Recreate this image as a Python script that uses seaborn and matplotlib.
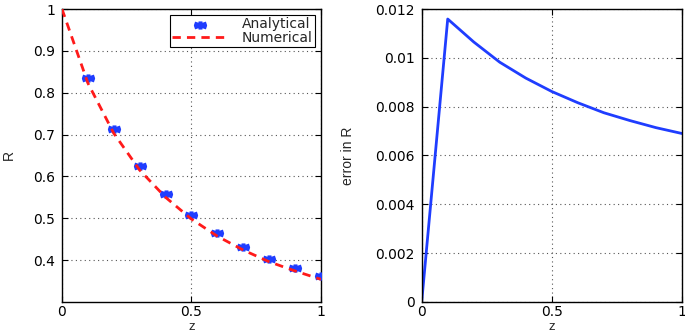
import numpy as np
import pandas as pd
import matplotlib
matplotlib.use("Agg")
import matplotlib.pyplot as plt
from matplotlib.path import Path
import seaborn as sns

# valores
z_an = [0.1, 0.2, 0.3, 0.4, 0.5, 0.6, 0.7, 0.8, 0.9, 1.0]
R_an = [0.835, 0.714, 0.625, 0.559, 0.507, 0.465, 0.432, 0.403, 0.381, 0.361]

z_num = [0.0, 0.1, 0.2, 0.3, 0.4, 0.5, 0.6, 0.7, 0.8, 0.9, 1.0]
R_num = [1.0, 0.823, 0.703, 0.615, 0.550, 0.498, 0.457, 0.424, 0.396, 0.374, 0.354]

err = [0.0, 0.01159, 0.01065, 0.00982, 0.00917, 0.00862, 0.00816, 0.00775, 0.00743, 0.00714, 0.00690]

df_an = pd.DataFrame({"z": z_an, "R": R_an})
df_num = pd.DataFrame({"z": z_num, "R": R_num, "err": err})

sns.set_style("ticks")
plt.rcParams["font.family"] = ["DejaVu Sans"]
plt.rcParams["font.size"] = 10

blue = "#1f3dff"
red = "#ff1a1a"

# asterisco estirado a lo ancho (como en la figura)
ang = np.deg2rad([90, 30, 150])
verts, codes = [], []
for a in ang:
    dx, dy = 1.7 * np.cos(a), np.sin(a)
    verts += [(-dx, -dy), (dx, dy)]
    codes += [Path.MOVETO, Path.LINETO]
star = Path(verts, codes)

fig = plt.figure(figsize=(6.85, 3.34), dpi=100)
ax1 = fig.add_axes([0.0905, 0.096, 0.378, 0.877])
ax2 = fig.add_axes([0.6156, 0.096, 0.38, 0.877])

sns.scatterplot(data=df_an, x="z", y="R", ax=ax1, marker=star, s=75,
                color=blue, edgecolor=blue, linewidth=2.8, label="Analytical", zorder=3)
sns.lineplot(data=df_num, x="z", y="R", ax=ax1, color=red, linewidth=2,
             dashes=(3, 2.2), label="Numerical", zorder=4)
ax1.set_xlim(0, 1)
ax1.set_ylim(0.3, 1)
ax1.set_xticks([0, 0.5, 1])
ax1.set_xticklabels(["0", "0.5", "1"])
ax1.set_yticks([0.4, 0.5, 0.6, 0.7, 0.8, 0.9, 1.0])
ax1.set_yticklabels(["0.4", "0.5", "0.6", "0.7", "0.8", "0.9", "1"])
ax1.set_xlabel("z", family="Liberation Sans", fontsize=9.5)
ax1.set_ylabel("R", family="Liberation Sans", fontsize=10)
ax1.yaxis.set_label_coords(-0.18, 0.5)
leg = ax1.legend(loc="upper right", frameon=True, fancybox=False, framealpha=1,
                 edgecolor="black", borderpad=0.15, handlelength=4.0, labelspacing=0.0,
                 borderaxespad=0.45, fontsize=10, handletextpad=1.0)
leg.get_frame().set_linewidth(0.8)

sns.lineplot(data=df_num, x="z", y="err", ax=ax2, color=blue, linewidth=2)
ax2.set_xlim(0, 1)
ax2.set_ylim(0, 0.012)
ax2.set_xticks([0, 0.5, 1])
ax2.set_xticklabels(["0", "0.5", "1"])
ax2.set_yticks([0, 0.002, 0.004, 0.006, 0.008, 0.01, 0.012])
ax2.set_yticklabels(["0", "0.002", "0.004", "0.006", "0.008", "0.01", "0.012"])
ax2.set_xlabel("z", family="Liberation Sans", fontsize=9.5)
ax2.set_ylabel("error in R", family="Liberation Sans", fontsize=10)
ax2.yaxis.set_label_coords(-0.257, 0.5)

for ax in (ax1, ax2):
    ax.xaxis.set_label_coords(0.5, -0.066)
    ax.grid(True, linestyle=(0, (1, 3)), color="#555555", linewidth=0.8)
    ax.tick_params(direction="in", length=4, width=0.8, colors="black", pad=5,
                   top=True, right=True)
    ax.tick_params(axis="x", pad=2)
    for s in ax.spines.values():
        s.set_visible(True)
        s.set_color("black")
        s.set_linewidth(1.0)

fig.savefig("out.png", dpi=100)
